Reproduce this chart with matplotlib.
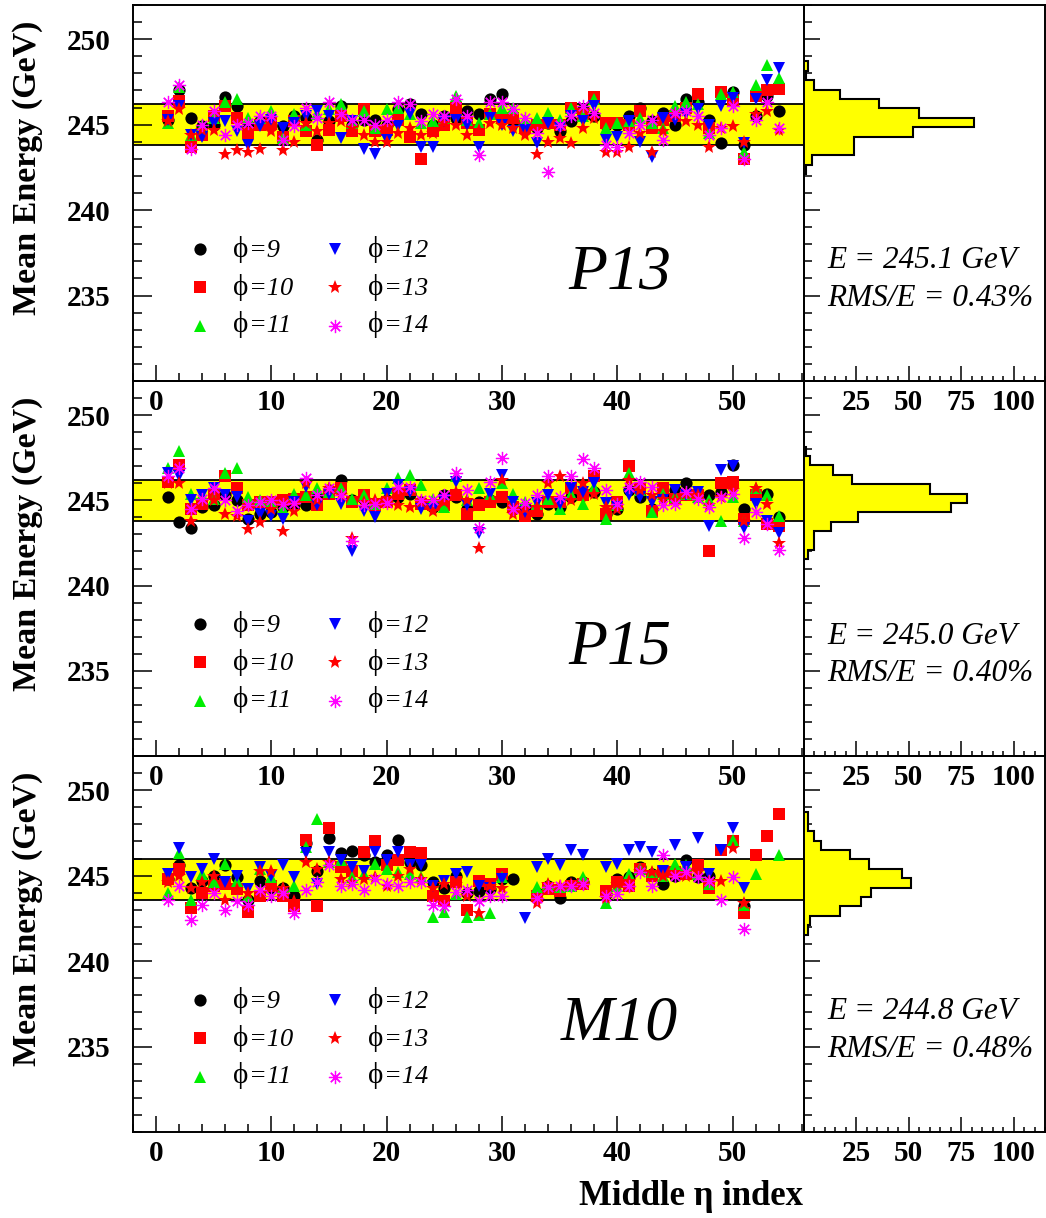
import numpy as np
import matplotlib
matplotlib.use("Agg")
import matplotlib.pyplot as plt
from matplotlib.ticker import MultipleLocator

nan = np.nan

# ---------------- data ----------------
eta_index = list(range(1, 55))
phi_values = ["9", "10", "11", "12", "13", "14"]
panel_names = ["P13", "P15", "M10"]
mean_energy = ["245.1", "245.0", "244.8"]
rms_over_e = ["0.43", "0.40", "0.48"]
band_lo = [243.8, 243.8, 243.55]
band_hi = [246.2, 246.2, 246.0]

p13_phi9 = [245.3, 247.0, 245.4, 244.9, 245.0, 246.6, 246.1, 245.0, 245.2, 245.0,
            244.9, 245.5, 245.4, 244.1, 245.2, 246.1, 245.0, 245.3, 245.3, 245.0,
            245.9, 246.2, 245.6, 245.0, 245.5, 245.4, 245.8, 245.6, 246.5, 246.8,
            245.2, 245.0, 244.8, 245.1, 244.6, 245.2, 245.9, 245.5, 245.0, 245.0,
            245.5, 246.0, 245.2, 245.7, 245.0, 246.5, 246.3, 245.3, 243.9, 246.9,
            243.8, 245.5, 246.7, 245.8]
p13_phi10 = [245.5, 246.4, 243.7, 244.4, 245.5, 246.1, 245.4, 244.5, 245.0, 245.1,
             244.3, 245.2, 244.6, 243.8, 244.7, 245.5, 244.6, 245.9, 244.6, 244.7,
             245.3, 244.3, 243.0, 244.6, 245.0, 246.0, 245.1, 244.7, 245.6, 245.4,
             245.4, 244.8, 245.0, 245.1, 245.0, 246.0, 245.6, 246.6, 245.1, 245.1,
             245.0, 245.8, 244.8, 245.3, 245.5, 246.0, 246.8, 244.8, 246.9, 246.45,
             243.0, 246.7, 247.0, 247.1]
p13_phi11 = [245.1, 247.2, 244.4, 244.9, 245.4, 246.3, 246.5, 245.4, 245.4, 245.8,
             244.2, 245.6, 245.0, 245.6, 245.9, 246.2, 245.1, 245.8, 244.8, 245.9,
             246.0, 245.6, 245.1, 245.2, 245.4, 246.7, 245.3, 245.1, 245.6, 246.0,
             246.0, 245.3, 245.4, 245.7, 245.3, 246.0, 245.5, 246.5, 244.8, 245.1,
             245.2, 245.4, 245.1, 244.8, 246.1, 246.3, 246.2, 244.5, 246.8, 246.9,
             243.4, 247.3, 248.5, 247.7]
p13_phi12 = [245.3, 246.1, 244.4, 244.3, 245.1, 245.2, 244.6, 243.8, 244.9, 245.3,
             244.8, 245.1, 245.5, 245.8, 245.5, 244.2, 245.2, 243.6, 243.3, 244.1,
             244.9, 245.6, 243.7, 243.7, 245.2, 245.3, 245.0, 243.7, 245.4, 245.0,
             244.6, 244.7, 243.9, 245.1, 244.8, 245.5, 245.2, 246.1, 244.1, 244.3,
             245.2, 244.0, 243.1, 245.4, 245.3, 245.6, 245.9, 245.0, 246.1, 246.55,
             243.9, 246.5, 247.6, 248.3]
p13_phi13 = [245.2, 245.9, 244.4, 244.7, 244.7, 243.3, 243.5, 243.4, 243.6, 244.6,
             243.5, 244.0, 245.1, 244.6, 245.1, 245.2, 244.8, 244.4, 244.0, 244.0,
             244.5, 244.8, 244.4, 244.5, 245.1, 245.0, 244.4, 244.7, 245.1, 245.0,
             244.8, 244.4, 243.3, 244.0, 244.2, 243.9, 244.8, 245.4, 243.4, 243.4,
             243.7, 244.5, 243.4, 244.6, 245.6, 245.2, 245.0, 243.7, 244.8, 244.9,
             244.0, 245.6, 245.8, 244.7]
p13_phi14 = [246.3, 247.3, 243.6, 245.0, 245.8, 244.4, 245.0, 245.1, 245.5, 245.5,
             244.1, 244.9, 246.0, 245.4, 246.3, 245.6, 245.3, 245.3, 245.0, 245.3,
             246.3, 246.2, 245.2, 245.6, 245.5, 246.5, 245.5, 243.2, 246.3, 246.3,
             245.9, 245.4, 244.5, 242.2, 245.0, 245.5, 246.1, 245.7, 243.8, 243.7,
             244.5, 245.0, 245.3, 244.1, 245.7, 245.8, 245.5, 244.4, 244.8, 246.1,
             243.0, 245.3, 246.3, 244.8]

p15_phi9 = [245.2, 243.7, 243.4, 244.6, 244.7, 245.3, 245.0, 243.9, 244.2, 244.3,
            244.6, 244.7, 244.7, 245.2, 245.6, 246.2, 245.0, 245.1, 244.8, 245.0,
            245.2, 245.4, 244.9, 244.6, 245.3, 245.2, 244.5, 244.9, 245.0, 244.9,
            244.5, 244.6, 244.2, 244.8, 244.6, 245.2, 245.3, 245.5, 244.2, 244.5,
            245.6, 245.2, 244.5, 245.3, 245.6, 246.0, 245.4, 245.3, 245.5, 247.1,
            244.5, 245.3, 245.4, 244.0]
p15_phi10 = [246.1, 247.1, 244.5, 244.8, 245.4, 246.4, 245.7, 244.7, 244.9, 244.9,
             245.0, 245.1, 245.2, 244.7, 245.4, 245.7, 244.9, 245.3, 244.7, 244.9,
             245.4, 245.6, 244.8, 244.7, 244.7, 245.3, 244.2, 244.7, 244.9, 245.2,
             244.6, 244.1, 244.4, 244.9, 244.9, 245.7, 245.3, 246.4, 244.2, 244.9,
             247.0, 245.7, 244.4, 245.7, 245.1, 245.3, 245.3, 242.0, 246.0, 246.1,
             243.9, 245.3, 243.6, 243.5]
p15_phi11 = [246.9, 247.9, 245.4, 245.3, 245.1, 246.6, 246.9, 245.2, 245.0, 244.9,
             244.5, 245.4, 245.3, 245.7, 245.5, 245.7, 245.1, 245.3, 244.8, 245.7,
             246.3, 246.5, 245.9, 245.1, 244.6, 246.4, 245.0, 245.7, 245.3, 246.0,
             245.4, 244.9, 244.8, 245.1, 244.5, 245.4, 244.8, 245.8, 243.9, 244.7,
             246.6, 245.6, 244.3, 245.4, 245.2, 245.4, 245.2, 245.0, 243.8, 245.2,
             243.8, 245.7, 245.3, 244.1]
p15_phi12 = [246.6, 246.4, 245.0, 245.3, 245.7, 245.3, 245.2, 243.8, 244.2, 244.1,
             243.9, 244.9, 245.8, 244.7, 245.4, 244.8, 242.0, 244.4, 244.0, 245.4,
             245.9, 245.5, 244.5, 244.5, 245.0, 246.1, 244.7, 243.1, 245.4, 246.5,
             244.9, 244.3, 244.85, 245.3, 244.8, 245.7, 245.5, 246.0, 244.85, 244.6,
             245.3, 245.2, 244.9, 245.0, 245.6, 245.3, 245.5, 243.5, 246.8, 247.0,
             243.4, 244.8, 243.8, 243.1]
p15_phi13 = [246.0, 246.0, 243.8, 244.9, 245.0, 244.2, 244.1, 243.3, 243.7, 244.5,
             243.2, 244.4, 246.0, 245.0, 245.7, 245.3, 242.8, 244.9, 245.0, 245.1,
             244.7, 244.6, 244.9, 244.4, 244.9, 245.5, 245.0, 242.2, 244.9, 246.2,
             244.2, 244.5, 244.6, 246.0, 246.4, 245.0, 246.0, 245.4, 244.6, 244.5,
             246.2, 245.6, 245.3, 245.1, 245.0, 245.4, 245.3, 244.7, 245.2, 245.6,
             243.8, 245.7, 244.8, 242.5]
p15_phi14 = [246.4, 246.9, 244.5, 245.1, 245.7, 245.0, 244.4, 244.7, 244.9, 245.0,
             244.8, 244.85, 246.3, 245.3, 245.7, 245.3, 242.6, 244.7, 244.8, 244.85,
             245.8, 245.8, 245.0, 245.0, 245.3, 246.6, 245.6, 243.4, 246.1, 247.5,
             244.5, 244.85, 245.3, 246.4, 245.2, 246.4, 247.4, 246.9, 245.6, 244.8,
             245.8, 246.1, 245.8, 244.7, 244.8, 245.5, 245.1, 244.6, 245.2, 245.4,
             242.8, 244.3, 243.6, 242.1]

m10_phi9 = [244.8, 245.6, 244.3, 244.7, 245.0, 245.6, 244.9, 243.6, 244.7, 244.2,
            244.3, 243.8, 246.9, 245.3, 247.2, 246.3, 246.45, 246.2, 245.8, 246.2,
            247.1, 245.8, 245.6, 244.6, 244.3, 245.0, 244.0, 244.1, 244.2, 244.8,
            244.8, nan, 244.0, 244.4, 243.7, 244.6, 244.6, nan, 243.9, 244.8,
            244.9, 245.5, 245.1, 244.5, 245.0, 245.9, 244.9, 245.0, nan, nan,
            243.2, nan, nan, nan]
m10_phi10 = [244.8, 245.4, 243.1, 244.0, 244.4, 244.5, 244.2, 242.9, 243.8, 244.4,
             243.8, 243.2, 247.1, 243.2, 247.8, 245.5, 245.3, 246.4, 247.0, 245.6,
             245.9, 246.4, 246.3, 243.8, 243.5, 244.6, 243.0, 244.7, 244.5, 245.1,
             nan, nan, 243.8, 244.2, 244.1, 244.4, 244.5, nan, 244.1, 244.6,
             244.4, 245.4, 245.0, 245.2, 245.2, 245.1, 245.6, 244.3, 246.5, 247.0,
             242.8, 246.2, 247.3, 248.6]
m10_phi11 = [244.0, 246.3, 243.6, 245.1, 244.6, 245.7, 244.7, 243.8, 245.4, 244.9,
             244.3, 244.4, 246.7, 248.3, 245.8, 245.9, 244.9, 245.1, 245.7, 245.4,
             245.2, 245.1, 244.9, 242.6, 242.9, 243.9, 242.6, 242.7, 242.8, 244.9,
             nan, nan, 244.35, 244.5, 244.35, 244.4, 244.9, nan, 243.4, 244.4,
             245.1, 245.4, 245.2, 245.0, 245.7, 245.6, 245.1, 244.5, nan, 247.1,
             243.3, 245.1, nan, 246.2]
m10_phi12 = [245.1, 246.6, 244.9, 245.4, 246.0, 244.6, 245.0, 244.2, 245.5, 245.0,
             245.6, 244.9, 246.3, 244.5, 246.4, 245.9, 245.5, 245.3, 246.4, 245.9,
             246.4, 245.6, 245.6, 244.4, 244.7, 245.1, 245.2, 244.4, 244.3, 244.8,
             nan, 242.5, 245.5, 246.0, 245.6, 246.5, 246.2, nan, 245.5, 245.7,
             246.5, 246.7, 246.4, 245.3, 246.8, 245.5, 247.2, 245.1, 246.5, 247.8,
             244.25, nan, nan, nan]
m10_phi13 = [244.6, 245.0, 244.3, 244.6, 245.0, 243.6, 244.2, 244.0, 245.3, 245.3,
             244.3, 243.5, 245.8, 245.4, 245.8, 244.8, 244.6, 244.8, 244.9, 244.4,
             245.0, 245.4, 244.8, 244.3, 244.5, 244.5, 243.8, 242.8, 244.4, 244.3,
             nan, nan, 243.4, 244.5, 244.4, 244.5, 244.5, nan, 243.7, 244.5,
             244.7, 245.3, 245.2, 245.0, 245.1, 245.0, 245.2, 244.7, 244.7, 246.6,
             243.4, nan, nan, nan]
m10_phi14 = [243.6, 244.4, 242.4, 243.3, 244.0, 243.0, 243.5, 243.3, 244.15, 243.8,
             244.0, 242.8, 244.15, 244.6, 245.6, 244.4, 244.5, 244.15, 244.8, 244.5,
             244.4, 244.6, 244.6, 243.3, 243.2, 244.05, 244.15, 243.5, 243.8, 243.8,
             nan, nan, 243.7, 244.35, 244.4, 244.4, 244.5, nan, 243.8, 243.9,
             244.4, 245.2, 244.4, 246.2, 245.0, 245.2, 244.9, 244.7, 243.6, 244.9,
             241.9, nan, nan, nan]

# projected histograms (counts per 0.55 GeV bin, from lowest bin upward)
hist_bin_width = 0.55
hist_low_edge = [242.1, 241.55, 241.55]
hist_p13 = [1, 4, 24, 24, 52, 81, 55, 36, 17, 5, 1, 2]
hist_p15 = [2, 5, 5, 13, 26, 70, 78, 60, 23, 14, 3, 1]
hist_m10 = [2, 3, 17, 27, 32, 51, 47, 31, 22, 8, 5, 2, 2]

series = [
    [p13_phi9, p13_phi10, p13_phi11, p13_phi12, p13_phi13, p13_phi14],
    [p15_phi9, p15_phi10, p15_phi11, p15_phi12, p15_phi13, p15_phi14],
    [m10_phi9, m10_phi10, m10_phi11, m10_phi12, m10_phi13, m10_phi14],
]
hists = [hist_p13, hist_p15, hist_m10]

# ---------------- styles ----------------
SERIF = ["Liberation Serif", "DejaVu Serif"]
plt.rcParams["font.family"] = SERIF
styles = [
    dict(marker="o", color="#000000", ms=8.8, mew=0),
    dict(marker="s", color="#ff0000", ms=8.8, mew=0),
    dict(marker="^", color="#00ee00", ms=9.2, mew=0),
    dict(marker="v", color="#0000ff", ms=9.2, mew=0),
    dict(marker="*", color="#ff0000", ms=10.5, mew=0),
    dict(marker=(8, 2, 0), color="#ff00ff", ms=9.5, mew=0.9),
]
YELLOW = "#ffff00"

W, H = 1046, 1218
fig = plt.figure(figsize=(W / 100, H / 100), dpi=100)
fig.patch.set_facecolor("white")

rows_px = [(5, 381), (381, 756), (756, 1132)]
main_l, main_r, hist_r = 133, 804, 1045

leg_mx = [0.0998, 0.301]
leg_tx = [0.149, 0.350]
leg_my = [0.351, 0.2508, 0.1463]
leg_ty = [0.330, 0.230, 0.130]

for r, (top, bot) in enumerate(rows_px):
    y0 = 1 - bot / H
    hgt = (bot - top) / H
    ax = fig.add_axes([main_l / W, y0, (main_r - main_l) / W, hgt])
    hax = fig.add_axes([main_r / W, y0, (hist_r - main_r) / W, hgt])
    for a in (ax, hax):
        a.set_facecolor("none")
        a.set_ylim(230, 252)
        for s in a.spines.values():
            s.set_linewidth(1.4)
            s.set_zorder(10)

    ax.set_xlim(-2, 56.2)
    ax.axhspan(band_lo[r], band_hi[r], facecolor=YELLOW, edgecolor="black",
               linewidth=1.3, zorder=1)
    for vals, st in zip(series[r], styles):
        ax.plot(eta_index, vals, linestyle="none", zorder=3, **st)

    xt = [0, 10, 20, 30, 40, 50]
    ax.set_xticks(xt, [str(v) for v in xt], fontsize=21, fontweight="bold")
    yt = [235, 240, 245, 250]
    ax.set_yticks(yt, [str(v) for v in yt], fontsize=21, fontweight="bold")
    ax.xaxis.set_minor_locator(MultipleLocator(2))
    ax.yaxis.set_minor_locator(MultipleLocator(1))
    ax.tick_params(which="both", direction="in", top=False, right=False, width=1.1)
    ax.tick_params(axis="y", which="major", length=13.5, pad=16)
    ax.tick_params(axis="y", which="minor", length=6.5)
    ax.tick_params(axis="x", which="major", length=11.5, pad=6)
    ax.tick_params(axis="x", which="minor", length=5.8)

    ax.text(0.725, 0.247, panel_names[r], transform=ax.transAxes, ha="center",
            va="baseline", fontsize=46, style="italic")

    # legend
    for k in range(6):
        col, row = divmod(k, 3)
        ax.plot([leg_mx[col]], [leg_my[row]], transform=ax.transAxes,
                linestyle="none", clip_on=False, zorder=5, **styles[k])
        ax.text(leg_tx[col], leg_ty[row], "\u03d5", transform=ax.transAxes,
                fontsize=21, va="baseline", ha="left")
        ax.annotate("=" + phi_values[k], xy=(leg_tx[col], leg_ty[row]),
                    xycoords="axes fraction", xytext=(16, 0),
                    textcoords="offset pixels", fontsize=19, style="italic",
                    va="baseline", ha="left")

    # projection histogram
    counts = hists[r]
    edges = hist_low_edge[r] + hist_bin_width * np.arange(len(counts) + 1)
    hax.stairs(counts, edges, orientation="horizontal", baseline=0, fill=True,
               facecolor=YELLOW, edgecolor="black", linewidth=1.5, zorder=2)
    hax.set_xlim(0, 115)
    hx = [25, 50, 75, 100]
    hax.set_xticks(hx, [str(v) for v in hx], fontsize=21, fontweight="bold")
    hax.xaxis.set_minor_locator(MultipleLocator(5))
    hax.set_yticks([230, 235, 240, 245, 250])
    hax.yaxis.set_minor_locator(MultipleLocator(1))
    hax.tick_params(which="both", direction="in", top=False, right=False,
                    width=1.1, labelleft=False)
    hax.tick_params(axis="y", which="major", length=11.5)
    hax.tick_params(axis="y", which="minor", length=5.5)
    hax.tick_params(axis="x", which="major", length=10.8, pad=6)
    hax.tick_params(axis="x", which="minor", length=3.6)

    hax.text(0.095, 0.30, "E = %s GeV" % mean_energy[r], transform=hax.transAxes,
             fontsize=22.5, style="italic", va="baseline", ha="left")
    hax.text(0.095, 0.20, "RMS/E = %s%%" % rms_over_e[r], transform=hax.transAxes,
             fontsize=22.5, style="italic", va="baseline", ha="left")

    fig.text(28 / W, 1 - (top + 163) / H, "Mean Energy (GeV)", rotation=90,
             ha="center", va="center", fontsize=24.5, fontweight="bold")

fig.text(803 / W, 1 - 1205 / H, "Middle \u03b7 index", ha="right", va="baseline",
         fontsize=25, fontweight="bold")

fig.savefig("out.png", dpi=100)
